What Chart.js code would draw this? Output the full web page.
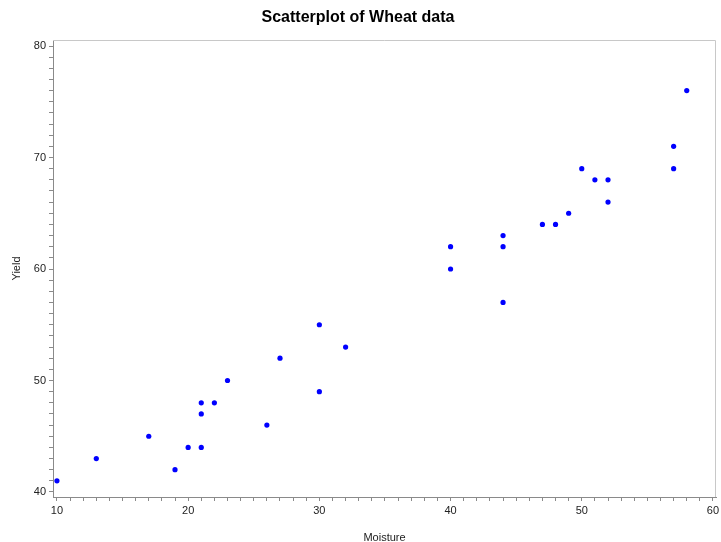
<!DOCTYPE html>
<html>
<head>
<meta charset="utf-8">
<script src="https://cdn.jsdelivr.net/npm/chart.js@4.4.0/dist/chart.umd.min.js"></script>
<style>
  html, body { margin: 0; padding: 0; background: #fff; }
  #wrap { width: 721px; height: 542px; }
</style>
</head>
<body>
<div id="wrap"><canvas id="chart" width="721" height="542"></canvas></div>
<script>
const moisture = [10, 13, 17, 19, 20, 21, 21, 21, 22, 23, 26, 27, 30, 30, 32, 40, 40, 44, 44, 44, 47, 48, 49, 50, 51, 52, 52, 57, 57, 58];
const yieldVals = [41, 43, 45, 42, 44, 44, 47, 48, 48, 50, 46, 52, 55, 49, 53, 62, 60, 63, 62, 57, 64, 64, 65, 69, 68, 68, 66, 71, 69, 76];

const xMajor = [10, 20, 30, 40, 50, 60];
const yMajor = [40, 50, 60, 70, 80];

const points = moisture.map((m, i) => ({ x: m, y: yieldVals[i] }));

// light frame around the plot area (top and right edges)
const frame = {
  id: 'frame',
  beforeDatasetsDraw(chart) {
    const { ctx, chartArea: a } = chart;
    ctx.save();
    ctx.strokeStyle = '#c8c8c8';
    ctx.lineWidth = 1;
    ctx.beginPath();
    ctx.moveTo(a.left, a.top + 0.5);
    ctx.lineTo(a.right - 0.5, a.top + 0.5);
    ctx.lineTo(a.right - 0.5, a.bottom);
    ctx.stroke();
    ctx.restore();
  }
};

const tickFont = { family: 'Arial, "Liberation Sans", sans-serif', size: 11 };

new Chart(document.getElementById('chart'), {
  type: 'scatter',
  data: {
    datasets: [{
      data: points,
      backgroundColor: '#0000ff',
      borderColor: '#0000ff',
      pointRadius: 2.6,
      pointHoverRadius: 2.6,
      borderWidth: 0
    }]
  },
  options: {
    responsive: false,
    animation: false,
    layout: { padding: { right: 5, left: 0, top: 0, bottom: 0 } },
    plugins: {
      legend: { display: false },
      tooltip: { enabled: false },
      title: {
        display: true,
        text: 'Scatterplot of Wheat data',
        color: '#000',
        font: { family: 'Arial, "Liberation Sans", sans-serif', size: 16, weight: 'bold' },
        padding: { top: 8, bottom: 12.8 }
      }
    },
    scales: {
      x: {
        type: 'linear',
        min: 9.7,
        max: 60.23,
        afterFit: s => { s.height = 45; s.paddingLeft = 0; s.paddingRight = 0; },
        border: { color: '#8a8a8a' },
        grid: { drawOnChartArea: false, drawTicks: true, tickLength: 4, color: '#8a8a8a' },
        ticks: {
          stepSize: 1,
          includeBounds: false,
          autoSkip: false,
          maxRotation: 0,
          padding: 3,
          color: '#222',
          font: tickFont,
          callback: v => xMajor.includes(v) ? v : ''
        },
        title: {
          display: true,
          text: 'Moisture',
          color: '#222',
          font: tickFont,
          padding: { top: 0, bottom: -3 }
        }
      },
      y: {
        type: 'linear',
        min: 39.55,
        max: 80.54,
        afterFit: s => { s.width = 53; },
        border: { color: '#8a8a8a' },
        grid: { drawOnChartArea: false, drawTicks: true, tickLength: 4, color: '#8a8a8a' },
        ticks: {
          stepSize: 1,
          includeBounds: false,
          autoSkip: false,
          padding: 3,
          color: '#222',
          font: tickFont,
          callback: v => yMajor.includes(v) ? v : ''
        },
        title: {
          display: true,
          text: 'Yield',
          color: '#222',
          font: tickFont,
          padding: { top: 10, bottom: 0 }
        }
      }
    }
  },
  plugins: [frame]
});
</script>
</body>
</html>
